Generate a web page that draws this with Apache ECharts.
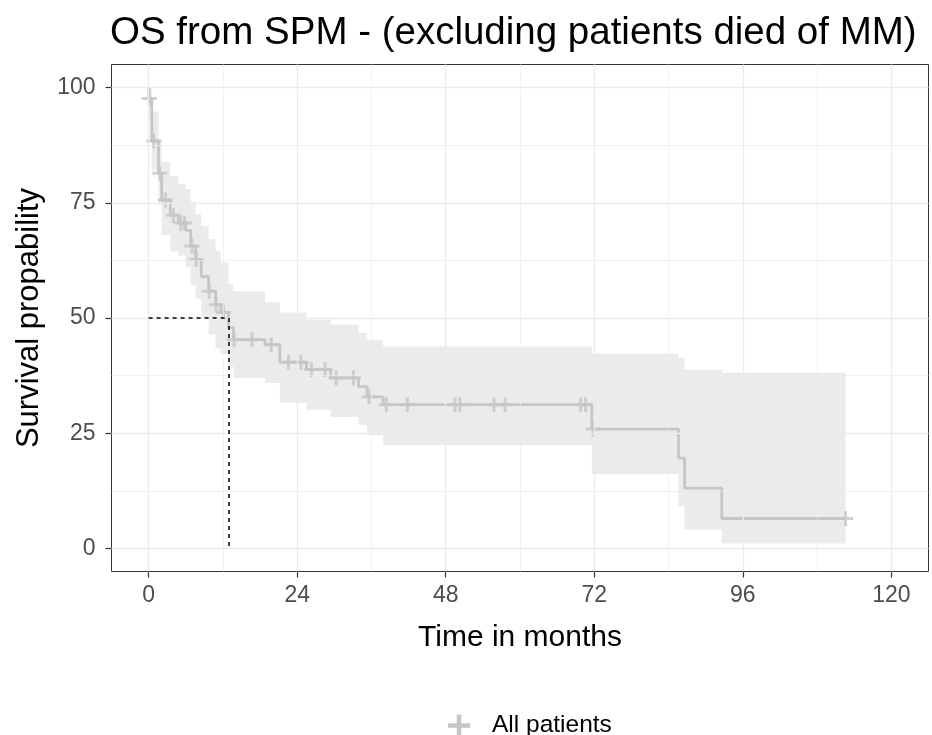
<!DOCTYPE html>
<html>
<head>
<meta charset="utf-8">
<script src="https://cdn.jsdelivr.net/npm/echarts@6/dist/echarts.min.js"></script>
<style>
  html, body { margin: 0; padding: 0; background: #fff; }
  #chart { width: 932px; height: 735px; }
</style>
</head>
<body>
<div id="chart"></div>
<script>
// step times (months), survival (%), and 95% band
var times = [0, 0.1, 0.5, 1.6, 2.1, 3.5, 4.8, 6.0, 6.8, 7.6, 8.5, 9.7, 10.8, 11.6, 12.9, 13.7, 18.8, 21.2, 25.5, 29.4, 33.9, 35.3, 37.9, 71.6, 85.6, 86.6, 92.6, 112.6];
var surv  = [100, 97.6, 88.4, 81.4, 75.6, 72.3, 70.6, 69.0, 65.6, 62.7, 59.0, 55.8, 52.9, 51.2, 47.9, 45.3, 44.2, 40.4, 38.8, 37.0, 35.1, 32.9, 31.2, 25.9, 19.6, 13.1, 6.5, 6.5];
var upper = [100, 100, 94.8, 88.9, 83.9, 80.8, 79.1, 78.0, 75.2, 72.5, 70.0, 67.1, 64.5, 62.1, 57.3, 55.8, 53.4, 51.2, 49.7, 48.6, 46.8, 45.3, 43.8, 42.3, 41.4, 38.8, 38.1, 38.1];
var lower = [100, 93.0, 82.0, 74.5, 68.0, 64.5, 63.5, 61.0, 57.2, 54.2, 50.0, 46.4, 43.4, 42.2, 39.5, 37.0, 35.9, 31.6, 30.1, 28.5, 26.8, 24.6, 22.4, 16.1, 9.1, 4.1, 1.1, 1.1];

// censored observations
var censTimes = [0.1, 0.8, 1.8, 2.7, 4.0, 5.2, 5.8, 7.0, 7.7, 9.8, 10.9, 12.1, 13.8, 16.7, 19.8, 22.6, 24.6, 26.3, 28.5, 30.3, 33.1, 35.6, 38.4, 41.8, 49.5, 50.3, 55.8, 57.6, 69.8, 70.6, 71.8, 112.6];
var censSurv  = [97.6, 88.4, 81.4, 75.6, 72.3, 70.6, 70.6, 65.6, 62.7, 55.8, 52.9, 51.2, 45.3, 45.3, 44.2, 40.4, 40.4, 38.8, 38.8, 37.0, 37.0, 32.9, 31.2, 31.2, 31.2, 31.2, 31.2, 31.2, 31.2, 31.2, 25.9, 6.5];

var medianTime = 12.9;

var xTicks = [0, 24, 48, 72, 96, 120];
var xMinor = [12, 36, 60, 84, 108];
var yTicks = [0, 25, 50, 75, 100];
var yMinor = [12.5, 37.5, 62.5, 87.5];

var FONT = "'Liberation Sans', Arial, sans-serif";
var GREY = '#c6c6c6';
var PLUS = 'path://M4,0h2v4h4v2h-4v4h-2v-4h-4v-2h4z';

var myChart = echarts.init(document.getElementById('chart'));

var kmData = times.map(function (t, i) { return [t, surv[i]]; });
var censData = censTimes.map(function (t, i) { return [t, censSurv[i]]; });

// gridlines as marklines so they sit on the ggplot breaks
var gridLines = [];
xTicks.forEach(function (v) { gridLines.push({ xAxis: v, lineStyle: { width: 1.3 } }); });
xMinor.forEach(function (v) { gridLines.push({ xAxis: v, lineStyle: { width: 0.7 } }); });
yTicks.forEach(function (v) { gridLines.push({ yAxis: v, lineStyle: { width: 1.3 } }); });
yMinor.forEach(function (v) { gridLines.push({ yAxis: v, lineStyle: { width: 0.7 } }); });

function renderBand(params, api) {
  if (params.dataIndex !== 0) return null;
  var pts = [];
  var n = times.length;
  for (var i = 1; i < n - 1; i++) {
    pts.push(api.coord([times[i], upper[i]]));
    pts.push(api.coord([times[i + 1], upper[i]]));
  }
  for (var j = n - 2; j >= 1; j--) {
    pts.push(api.coord([times[j + 1], lower[j]]));
    pts.push(api.coord([times[j], lower[j]]));
  }
  return {
    type: 'polygon',
    shape: { points: pts },
    style: { fill: 'rgba(150,150,150,0.19)' }
  };
}

myChart.setOption({
  animation: false,
  backgroundColor: '#fff',
  title: {
    text: 'OS from SPM - (excluding patients died of MM)',
    left: 110,
    top: 14,
    padding: 0,
    textStyle: { fontFamily: FONT, fontSize: 38.5, fontWeight: 'normal', color: '#000' }
  },
  legend: {
    left: 443,
    top: 708,
    itemWidth: 22,
    itemHeight: 22,
    itemGap: 10,
    data: [{ name: 'All patients', icon: PLUS }],
    textStyle: { fontFamily: FONT, fontSize: 24.5, color: '#000', padding: [0, 0, 0, 17] }
  },
  grid: {
    left: 111.5,
    right: 3.5,
    top: 64.5,
    bottom: 163.5,
    show: true,
    backgroundColor: '#fff',
    borderColor: '#333',
    borderWidth: 1
  },
  xAxis: {
    type: 'value',
    min: -6,
    max: 126,
    axisLine: { show: false, onZero: false },
    axisTick: { show: true, customValues: xTicks, length: 6, lineStyle: { color: '#333', width: 1.2 } },
    axisLabel: { customValues: xTicks, fontFamily: FONT, fontSize: 23, color: '#4d4d4d', margin: 13 },
    splitLine: { show: false },
    name: 'Time in months',
    nameLocation: 'middle',
    nameGap: 51,
    nameTextStyle: { fontFamily: FONT, fontSize: 30, color: '#000' }
  },
  yAxis: {
    type: 'value',
    min: -5,
    max: 105,
    axisLine: { show: false, onZero: false },
    axisTick: { show: true, customValues: yTicks, length: 6, lineStyle: { color: '#333', width: 1.2 } },
    axisLabel: { customValues: yTicks, fontFamily: FONT, fontSize: 23, color: '#4d4d4d', margin: 16 },
    splitLine: { show: false },
    name: 'Survival propability',
    nameLocation: 'middle',
    nameGap: 67,
    nameTextStyle: { fontFamily: FONT, fontSize: 31, color: '#000' }
  },
  series: [
    {
      name: 'gridlines',
      type: 'scatter',
      data: [],
      silent: true,
      z: 1,
      markLine: {
        silent: true,
        symbol: 'none',
        label: { show: false },
        lineStyle: { color: '#ebebeb', type: 'solid' },
        data: gridLines
      }
    },
    {
      name: 'band',
      type: 'custom',
      z: 2,
      silent: true,
      renderItem: renderBand,
      data: [[0, 100]]
    },
    {
      name: 'All patients',
      type: 'line',
      step: 'end',
      z: 3,
      data: kmData,
      showSymbol: false,
      color: GREY,
      lineStyle: { color: GREY, width: 2.8 }
    },
    {
      name: 'censored',
      type: 'scatter',
      z: 4,
      data: censData,
      symbol: PLUS,
      symbolSize: 15,
      itemStyle: { color: GREY },
      markLine: {
        silent: true,
        symbol: 'none',
        label: { show: false },
        lineStyle: { color: '#000', type: [4, 4], width: 1.5 },
        data: [
          [{ coord: [0, 50] }, { coord: [medianTime, 50] }],
          [{ coord: [medianTime, 50] }, { coord: [medianTime, 0] }]
        ]
      }
    }
  ]
});
</script>
</body>
</html>
